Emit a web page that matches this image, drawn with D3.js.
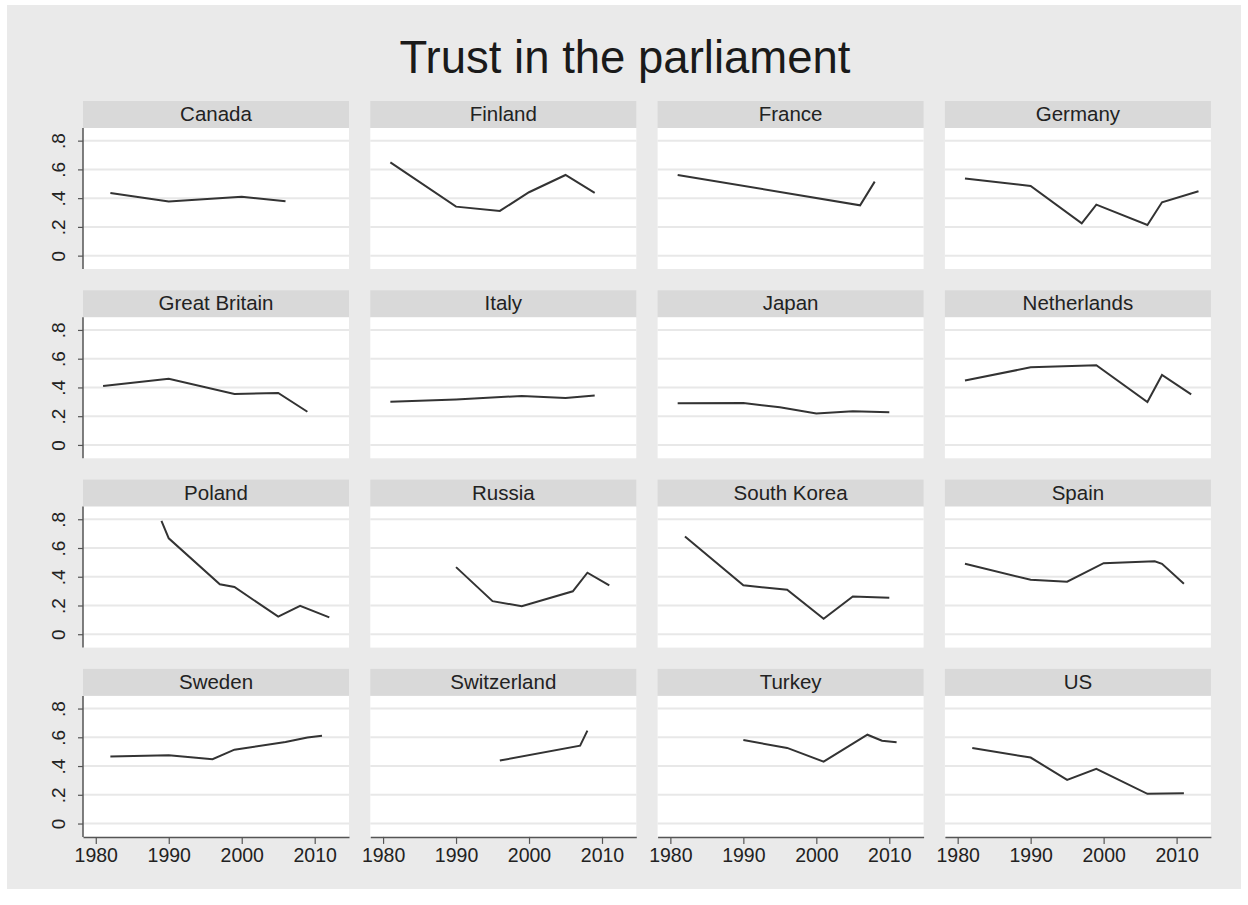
<!DOCTYPE html>
<html>
<head>
<meta charset="utf-8">
<script src="https://cdn.jsdelivr.net/npm/d3@7"></script>
<style>
  body { margin: 0; background: #ffffff; }
  text { font-family: "Liberation Sans", Arial, sans-serif; }
</style>
</head>
<body>
<div id="chart"></div>
<script>
// data
var countries = ["Canada", "Finland", "France", "Germany",
                 "Great Britain", "Italy", "Japan", "Netherlands",
                 "Poland", "Russia", "South Korea", "Spain",
                 "Sweden", "Switzerland", "Turkey", "US"];

var years = [
  [1982, 1990, 2000, 2006],
  [1981, 1990, 1996, 2000, 2005, 2009],
  [1981, 2006, 2008],
  [1981, 1990, 1997, 1999, 2006, 2008, 2013],
  [1981, 1990, 1999, 2005, 2009],
  [1981, 1990, 1999, 2005, 2009],
  [1981, 1990, 1995, 2000, 2005, 2010],
  [1981, 1990, 1999, 2006, 2008, 2012],
  [1989, 1990, 1997, 1999, 2005, 2008, 2012],
  [1990, 1995, 1999, 2006, 2008, 2011],
  [1982, 1990, 1996, 2001, 2005, 2010],
  [1981, 1990, 1995, 2000, 2007, 2008, 2011],
  [1982, 1990, 1996, 1999, 2006, 2009, 2011],
  [1996, 2007, 2008],
  [1990, 1996, 2001, 2007, 2009, 2011],
  [1982, 1990, 1995, 1999, 2006, 2011]
];

var trust = [
  [0.436, 0.376, 0.410, 0.378],
  [0.649, 0.341, 0.311, 0.441, 0.561, 0.436],
  [0.561, 0.350, 0.515],
  [0.536, 0.485, 0.225, 0.355, 0.213, 0.371, 0.448],
  [0.410, 0.461, 0.355, 0.362, 0.231],
  [0.300, 0.316, 0.341, 0.327, 0.344],
  [0.290, 0.291, 0.262, 0.218, 0.234, 0.228],
  [0.448, 0.540, 0.554, 0.299, 0.487, 0.352],
  [0.789, 0.667, 0.347, 0.329, 0.122, 0.198, 0.117],
  [0.467, 0.230, 0.195, 0.299, 0.428, 0.340],
  [0.680, 0.340, 0.310, 0.108, 0.262, 0.253],
  [0.490, 0.379, 0.366, 0.494, 0.508, 0.490, 0.352],
  [0.466, 0.475, 0.447, 0.514, 0.567, 0.599, 0.611],
  [0.438, 0.542, 0.646],
  [0.581, 0.526, 0.431, 0.618, 0.576, 0.565],
  [0.526, 0.459, 0.304, 0.380, 0.207, 0.210]
];

var yTicks = [0, 0.2, 0.4, 0.6, 0.8];
var yTickLabels = ["0", ".2", ".4", ".6", ".8"];
var xTicks = [1980, 1990, 2000, 2010];

var chartTitle = "Trust in the parliament";

// layout
var width = 1248, height = 905;
var nCols = 4;
var panelW = 266, stripH = 27, plotH = 141;
var colStep = 287.3, rowStep = 189.3;
var left0 = 83, top0 = 101;

var svg = d3.select("#chart")
  .append("svg")
  .attr("width", width)
  .attr("height", height);

svg.append("rect")
  .attr("x", 7).attr("y", 5)
  .attr("width", 1234).attr("height", 884)
  .attr("fill", "#eaeaea");

svg.append("text")
  .attr("x", 625).attr("y", 73)
  .attr("text-anchor", "middle")
  .style("font-size", "45.5px")
  .attr("fill", "#1a1a1a")
  .text(chartTitle);

var x = d3.scaleLinear().domain([1978.25, 2014.7]).range([0, panelW]);
var y = d3.scaleLinear().domain([-0.093, 0.888]).range([plotH, 0]);

var line = d3.line()
  .x(function(d) { return x(d[0]); })
  .y(function(d) { return y(d[1]); });

countries.forEach(function(name, i) {
  var col = i % nCols, row = Math.floor(i / nCols);
  var g = svg.append("g")
    .attr("transform", "translate(" + (left0 + col * colStep) + "," + (top0 + row * rowStep) + ")");

  g.append("rect")
    .attr("width", panelW).attr("height", stripH)
    .attr("fill", "#d9d9d9");
  g.append("text")
    .attr("x", panelW / 2).attr("y", stripH / 2 + 6.5)
    .attr("text-anchor", "middle")
    .style("font-size", "20.5px")
    .attr("fill", "#222")
    .text(name);

  var plot = g.append("g").attr("transform", "translate(0," + stripH + ")");
  plot.append("rect")
    .attr("width", panelW).attr("height", plotH)
    .attr("fill", "#ffffff");

  plot.selectAll(".grid")
    .data(yTicks)
    .enter().append("line")
    .attr("class", "grid")
    .attr("x1", 0).attr("x2", panelW)
    .attr("y1", function(d) { return y(d); })
    .attr("y2", function(d) { return y(d); })
    .attr("stroke", "#e8e8e8")
    .attr("stroke-width", 2);

  var pts = years[i].map(function(yr, k) { return [yr, trust[i][k]]; });
  plot.append("path")
    .datum(pts)
    .attr("d", line)
    .attr("fill", "none")
    .attr("stroke", "#333")
    .attr("stroke-width", 2);

  if (col === 0) {
    var ya = plot.append("g")
      .call(d3.axisLeft(y).tickValues(yTicks)
        .tickFormat(function(d, k) { return yTickLabels[k]; })
        .tickSize(5).tickSizeOuter(0));
    ya.select(".domain").attr("stroke", "#555").attr("stroke-width", 1.5)
      .attr("d", "M0,0V" + plotH);
    ya.selectAll(".tick line").attr("stroke", "#555").attr("stroke-width", 1.2);
    ya.selectAll(".tick text")
      .attr("x", null).attr("dy", null)
      .attr("text-anchor", "middle")
      .attr("transform", "translate(-18,0) rotate(-90)")
      .style("font-size", "19px")
      .attr("fill", "#222");
  }

  if (row === Math.floor((countries.length - 1) / nCols)) {
    var xa = plot.append("g")
      .attr("transform", "translate(0," + plotH + ")")
      .call(d3.axisBottom(x).tickValues(xTicks)
        .tickFormat(d3.format("d"))
        .tickSize(7).tickSizeOuter(0));
    xa.select(".domain").attr("stroke", "#555").attr("stroke-width", 1.5);
    xa.selectAll(".tick line").attr("stroke", "#555").attr("stroke-width", 1.2);
    xa.selectAll(".tick text")
      .attr("y", 11)
      .style("font-size", "19.5px")
      .attr("fill", "#222");
  }
});
</script>
</body>
</html>
